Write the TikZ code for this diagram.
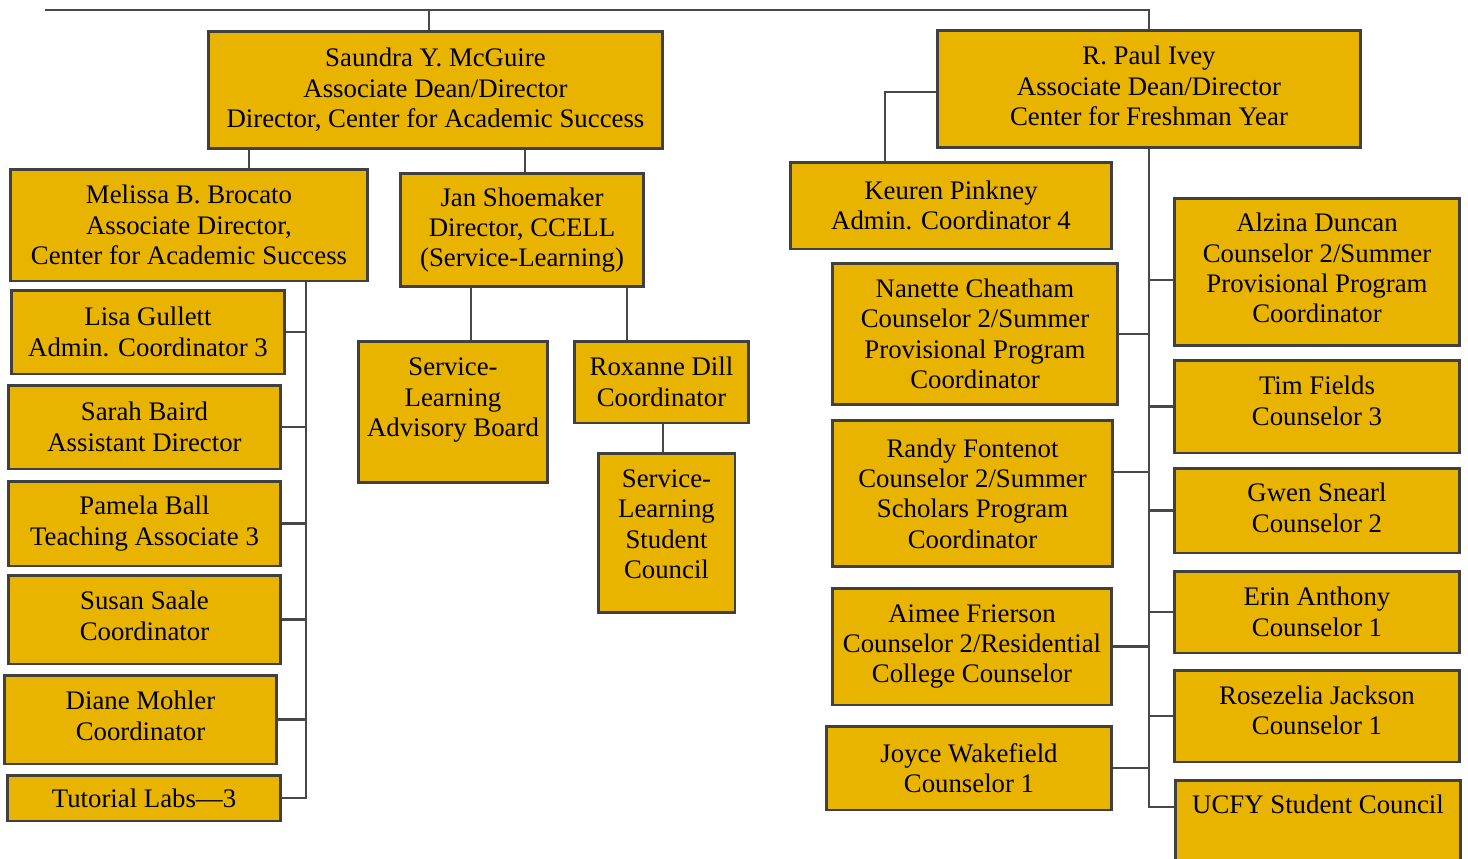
\documentclass[tikz,border=0pt]{standalone}
\usepackage{fontspec}
\setmainfont{Liberation Serif}
\definecolor{unitgold}{RGB}{232,180,0}
\definecolor{framegray}{RGB}{64,64,64}
\definecolor{linegray}{RGB}{72,72,72}
\tikzset{
  unitbox/.style = {draw=framegray, line width=1.7pt, fill=unitgold, align=center,
                    inner sep=0pt, font=\fontsize{15.25}{17.3}\selectfont},
  orgline/.style = {draw=linegray, line width=1.25pt},
}
\begin{document}
\begin{tikzpicture}[x=0.02cm, y=-0.02cm]
    \useasboundingbox (0,0) rectangle (1468,859);

    % the two associate deans
    \node[unitbox, minimum width=9.1cm, minimum height=2.36cm] (mcguire) at (435.5,90) {Saundra Y. McGuire\\Associate Dean/Director\\Director, Center for Academic Success};
    \node[unitbox, minimum width=8.48cm, minimum height=2.36cm, text depth=3.4pt] (ivey) at (1149,89) {R. Paul Ivey\\Associate Dean/Director\\Center for Freshman Year};

    % center for academic success
    \node[unitbox, minimum width=7.16cm, minimum height=2.24cm] (brocato) at (189,225) {Melissa B. Brocato\\Associate Director,\\Center for Academic Success};
    \node[unitbox, minimum width=5.48cm, minimum height=1.68cm] (gullett) at (148,332) {Lisa Gullett\\Admin. Coordinator 3};
    \node[unitbox, minimum width=5.46cm, minimum height=1.68cm] (baird) at (144.5,427) {Sarah Baird\\Assistant Director};
    \node[unitbox, minimum width=5.46cm, minimum height=1.7cm] (ball) at (144.5,523.5) {Pamela Ball\\Teaching Associate 3};
    \node[unitbox, minimum width=5.46cm, minimum height=1.78cm, text depth=4.5pt] (saale) at (144.5,619.5) {Susan Saale\\Coordinator};
    \node[unitbox, minimum width=5.46cm, minimum height=1.78cm, text depth=4.5pt] (mohler) at (140.5,719.5) {Diane Mohler\\Coordinator};
    \node[unitbox, minimum width=5.48cm, minimum height=0.92cm] (tutorial) at (144,798) {Tutorial Labs---3};

    % ccell
    \node[unitbox, minimum width=4.88cm, minimum height=2.28cm] (shoemaker) at (522,230) {Jan Shoemaker\\Director, CCELL\\(Service-Learning)};
    \node[unitbox, minimum width=3.8cm, minimum height=2.84cm, text depth=16.6pt] (advisory) at (453,412) {Service-\\Learning\\Advisory Board};
    \node[unitbox, minimum width=3.5cm, minimum height=1.64cm] (dill) at (661.5,382) {Roxanne Dill\\Coordinator};
    \node[unitbox, minimum width=2.74cm, minimum height=3.2cm, text depth=10.2pt] (council) at (666.5,533) {Service-\\Learning\\Student\\Council};

    % center for freshman year, left side
    \node[unitbox, minimum width=6.44cm, minimum height=1.74cm] (pinkney) at (951,205.5) {Keuren Pinkney\\Admin. Coordinator 4};
    \node[unitbox, minimum width=5.72cm, minimum height=2.84cm] (cheatham) at (975,334) {Nanette Cheatham\\Counselor 2/Summer\\Provisional Program\\Coordinator};
    \node[unitbox, minimum width=5.62cm, minimum height=2.94cm] (fontenot) at (972.5,493.5) {Randy Fontenot\\Counselor 2/Summer\\Scholars Program\\Coordinator};
    \node[unitbox, minimum width=5.6cm, minimum height=2.34cm] (frierson) at (972,646.5) {Aimee Frierson\\Counselor 2/Residential\\College Counselor};
    \node[unitbox, minimum width=5.72cm, minimum height=1.68cm] (wakefield) at (969,768) {Joyce Wakefield\\Counselor 1};

    % center for freshman year, right side
    \node[unitbox, minimum width=5.72cm, minimum height=2.96cm, text depth=4.5pt] (duncan) at (1317,272) {Alzina Duncan\\Counselor 2/Summer\\Provisional Program\\Coordinator};
    \node[unitbox, minimum width=5.72cm, minimum height=1.86cm, text depth=6.8pt] (fields) at (1317,406.5) {Tim Fields\\Counselor 3};
    \node[unitbox, minimum width=5.72cm, minimum height=1.7cm, text depth=3.4pt] (snearl) at (1317,510.5) {Gwen Snearl\\Counselor 2};
    \node[unitbox, minimum width=5.72cm, minimum height=1.64cm] (anthony) at (1317,612) {Erin Anthony\\Counselor 1};
    \node[unitbox, minimum width=5.72cm, minimum height=1.84cm, text depth=6.8pt] (jackson) at (1317,716) {Rosezelia Jackson\\Counselor 1};
    \node[unitbox, minimum width=5.72cm, minimum height=2.2cm, text depth=34.7pt] (ucfy) at (1318,835) {UCFY Student Council};

    % top bar
    \coordinate (topend) at (45,10);
    \draw[orgline] (topend) -| (ivey.north);
    \draw[orgline] ([xshift=-0.13cm]mcguire.north) -- ([xshift=-0.13cm]mcguire.north |- topend);

    % mcguire branch
    \draw[orgline] ([xshift=1.2cm]brocato.north) -- ([xshift=1.2cm]brocato.north |- mcguire.south);
    \draw[orgline] ([xshift=0.06cm]shoemaker.north) -- ([xshift=0.06cm]shoemaker.north |- mcguire.south);
    \coordinate (casline) at ([xshift=2.34cm]brocato.south);
    \foreach \n in {gullett,baird,ball,saale,mohler,tutorial}
        \draw[orgline] (\n.east) -| (casline);
    \draw[orgline] ([xshift=0.36cm]advisory.north) -- ([xshift=0.36cm]advisory.north |- shoemaker.south);
    \draw[orgline] ([xshift=-0.69cm]dill.north) -- ([xshift=-0.69cm]dill.north |- shoemaker.south);
    \draw[orgline] ([xshift=0.03cm]dill.south) -- ([xshift=0.03cm]dill.south |- council.north);

    % ivey branch
    \draw[orgline] ([yshift=-0.06cm]ivey.west) -| ([xshift=-1.32cm]pinkney.north);
    \draw[orgline] (ivey.south) |- ([yshift=0.56cm]ucfy.west);
    \foreach \n in {cheatham,frierson,wakefield}
        \draw[orgline] (\n.east) -- (\n.east -| ivey.south);
    \draw[orgline] ([yshift=0.43cm]fontenot.east) -- ([yshift=0.43cm]fontenot.east -| ivey.south);
    \draw[orgline] ([yshift=-0.16cm]duncan.west) -- ([yshift=-0.16cm]duncan.west -| ivey.south);
    \foreach \n in {fields,snearl,anthony,jackson}
        \draw[orgline] (\n.west) -- (\n.west -| ivey.south);
\end{tikzpicture}
\end{document}
